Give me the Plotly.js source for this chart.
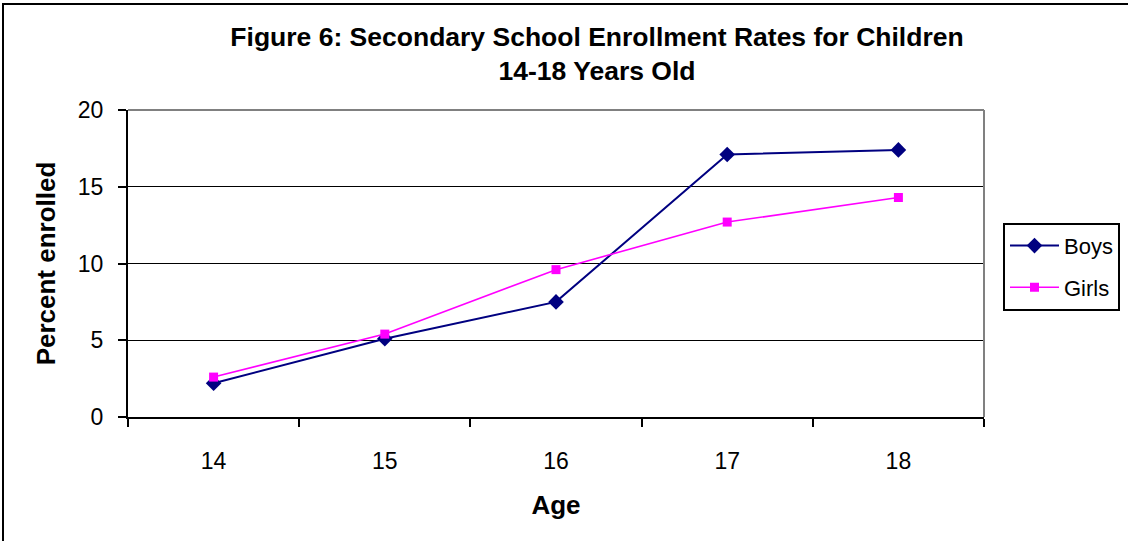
<!DOCTYPE html>
<html>
<head>
<meta charset="utf-8">
<script src="https://cdn.plot.ly/plotly-3.0.1.min.js"></script>
<style>
  html, body { margin: 0; padding: 0; background: #fff; }
  #wrap { position: relative; width: 1128px; height: 541px; overflow: hidden; }
  #chart { width: 1128px; height: 541px; }
  #frame { position: absolute; left: 2px; top: 3px; width: 1200px; height: 600px;
           border: 2px solid #000; pointer-events: none; box-sizing: border-box; }
</style>
</head>
<body>
<div id="wrap">
  <div id="chart"></div>
  <div id="frame"></div>
</div>
<script>
// Ages on the x axis
const ages = ['14', '15', '16', '17', '18'];
// Percent enrolled in secondary school by age
const boys  = [2.2, 5.1, 7.5, 17.1, 17.4];
const girls = [2.6, 5.4, 9.6, 12.7, 14.3];

const FONT = '"Liberation Sans", Arial, sans-serif';

const traces = [
  {
    name: 'Boys', x: ages, y: boys, type: 'scatter', mode: 'lines+markers',
    line: { color: '#000080', width: 2 },
    marker: { symbol: 'diamond', size: 12, color: '#000080' },
    legendgroup: 'b'
  },
  {
    name: 'Girls', x: ages, y: girls, type: 'scatter', mode: 'lines+markers',
    line: { color: '#FF00FF', width: 1.6 },
    marker: { symbol: 'square', size: 9, color: '#FF00FF' },
    legendgroup: 'g'
  }
];

const layout = {
  width: 1128, height: 541,
  margin: { l: 128, r: 144, t: 110, b: 124, autoexpand: false },
  paper_bgcolor: '#fff', plot_bgcolor: '#fff',
  font: { family: FONT, size: 22, color: '#000' },
  title: {
    text: '<b>Figure 6: Secondary School Enrollment Rates for Children<br>14-18 Years Old</b>',
    x: 597 / 1128, xanchor: 'center', xref: 'container',
    y: 1 - 46 / 541, yanchor: 'middle', yref: 'container',
    font: { family: FONT, size: 26.5, color: '#000' }
  },
  xaxis: {
    type: 'category', range: [-0.5, 4.5],
    tickson: 'boundaries', ticks: 'outside', ticklen: 8, tickwidth: 2, tickcolor: '#000',
    showline: true, linecolor: '#000', linewidth: 2,
    showgrid: false, zeroline: false,
    ticklabelstandoff: 22,
    tickfont: { family: FONT, size: 23 },
    title: { text: '<b>Age</b>', font: { family: FONT, size: 26 }, standoff: 23 },
    fixedrange: true
  },
  yaxis: {
    range: [0, 20], dtick: 5, tick0: 0,
    ticks: 'outside', ticklen: 8, tickwidth: 2, tickcolor: '#000',
    showline: true, linecolor: '#000', linewidth: 2,
    showgrid: true, gridcolor: '#000', gridwidth: 1, zeroline: false,
    ticklabelstandoff: 10,
    tickfont: { family: FONT, size: 23 },
    title: { text: '<b>Percent enrolled</b>', font: { family: FONT, size: 26 }, standoff: 15 },
    fixedrange: true
  },
  legend: {
    x: (1003 - 128) / 856, xanchor: 'left',
    y: (417.5 - 223) / 307.5, yanchor: 'top',
    bordercolor: '#000', borderwidth: 2, bgcolor: '#fff',
    font: { family: FONT, size: 22 },
    itemwidth: 49,
    tracegroupgap: 10
  },
  shapes: [
    // plot-area frame: grey top and right edges
    { type: 'line', xref: 'paper', yref: 'paper', x0: 0, x1: 1, y0: 1, y1: 1,
      line: { color: '#808080', width: 2 } },
    { type: 'line', xref: 'paper', yref: 'paper', x0: 1, x1: 1, y0: 0, y1: 1,
      line: { color: '#808080', width: 2 } }
  ],
  showlegend: true
};

Plotly.newPlot('chart', traces, layout, { displayModeBar: false, staticPlot: true });
</script>
</body>
</html>
